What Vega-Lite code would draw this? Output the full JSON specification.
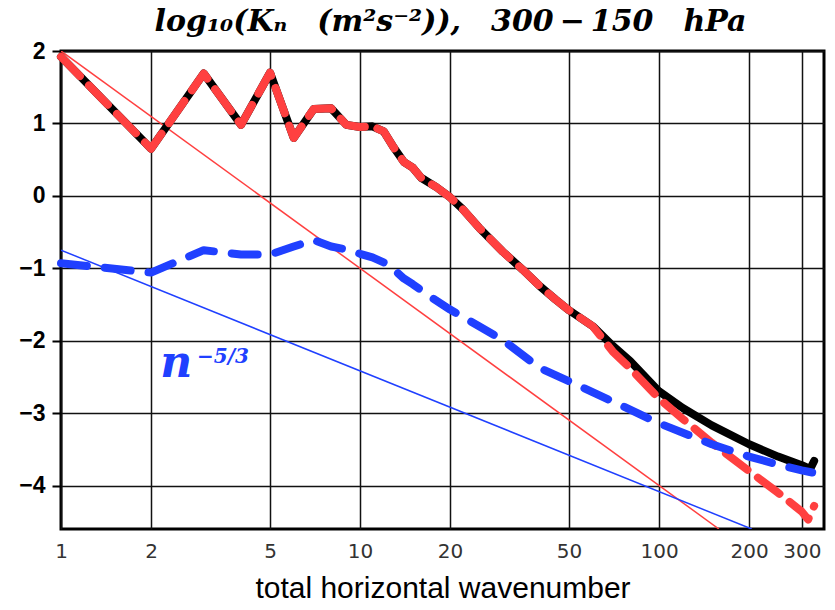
{
  "$schema": "https://vega.github.io/schema/vega-lite/v6.json",
  "width": 763,
  "height": 478,
  "autosize": "none",
  "padding": {"left": 61, "top": 51, "right": 11, "bottom": 81},
  "background": "white",
  "config": {
    "view": {"stroke": "black", "strokeWidth": 3},
    "axis": {"gridColor": "#111", "gridWidth": 1.5, "gridOpacity": 1, "domain": false}
  },
  "title": {
    "text": "log₁₀(Kₙ\u2003(m²s⁻²)),\u2003300\u2009−\u2009150\u2003hPa",
    "font": "DejaVu Serif",
    "fontSize": 30,
    "fontStyle": "italic",
    "fontWeight": "bold",
    "color": "black",
    "anchor": "middle",
    "frame": "group",
    "baseline": "bottom",
    "offset": 12,
    "dx": 8,
    "dy": 39
  },
  "datasets": {
    "total": [
      {"n": 1, "v": 1.92}, {"n": 2, "v": 0.65}, {"n": 3, "v": 1.69}, {"n": 4, "v": 0.98},
      {"n": 5, "v": 1.70}, {"n": 6, "v": 0.80}, {"n": 7, "v": 1.20}, {"n": 8, "v": 1.21},
      {"n": 9, "v": 0.98}, {"n": 10, "v": 0.95}, {"n": 11, "v": 0.96}, {"n": 12, "v": 0.89},
      {"n": 13, "v": 0.66}, {"n": 14, "v": 0.47}, {"n": 15, "v": 0.39}, {"n": 16, "v": 0.25},
      {"n": 18, "v": 0.12}, {"n": 20, "v": -0.02}, {"n": 22, "v": -0.18}, {"n": 25, "v": -0.44},
      {"n": 30, "v": -0.77}, {"n": 35, "v": -1.02}, {"n": 40, "v": -1.25}, {"n": 45, "v": -1.43},
      {"n": 50, "v": -1.58}, {"n": 60, "v": -1.80}, {"n": 70, "v": -2.07}, {"n": 80, "v": -2.28},
      {"n": 100, "v": -2.70}, {"n": 120, "v": -2.93}, {"n": 150, "v": -3.17}, {"n": 200, "v": -3.43},
      {"n": 250, "v": -3.60}, {"n": 300, "v": -3.72}, {"n": 320, "v": -3.77}, {"n": 330, "v": -3.66}
    ],
    "rot": [
      {"n": 1, "v": 1.92}, {"n": 2, "v": 0.65}, {"n": 3, "v": 1.69}, {"n": 4, "v": 0.98},
      {"n": 5, "v": 1.70}, {"n": 6, "v": 0.80}, {"n": 7, "v": 1.20}, {"n": 8, "v": 1.21},
      {"n": 9, "v": 0.98}, {"n": 10, "v": 0.95}, {"n": 11, "v": 0.96}, {"n": 12, "v": 0.89},
      {"n": 13, "v": 0.66}, {"n": 14, "v": 0.47}, {"n": 15, "v": 0.39}, {"n": 16, "v": 0.25},
      {"n": 18, "v": 0.12}, {"n": 20, "v": -0.02}, {"n": 22, "v": -0.18}, {"n": 25, "v": -0.44},
      {"n": 30, "v": -0.77}, {"n": 35, "v": -1.02}, {"n": 40, "v": -1.25}, {"n": 45, "v": -1.43},
      {"n": 50, "v": -1.58}, {"n": 60, "v": -1.80}, {"n": 70, "v": -2.15}, {"n": 80, "v": -2.38},
      {"n": 100, "v": -2.80}, {"n": 120, "v": -3.08}, {"n": 150, "v": -3.41}, {"n": 200, "v": -3.80},
      {"n": 250, "v": -4.10}, {"n": 300, "v": -4.36}, {"n": 315, "v": -4.47}, {"n": 330, "v": -4.28}
    ],
    "div": [
      {"n": 1, "v": -0.93}, {"n": 2, "v": -1.06}, {"n": 3, "v": -0.75}, {"n": 4, "v": -0.81},
      {"n": 5, "v": -0.81}, {"n": 6, "v": -0.70}, {"n": 7, "v": -0.61}, {"n": 8, "v": -0.70},
      {"n": 9, "v": -0.74}, {"n": 10, "v": -0.80}, {"n": 11, "v": -0.85}, {"n": 12, "v": -0.92},
      {"n": 13, "v": -1.02}, {"n": 14, "v": -1.14}, {"n": 15, "v": -1.22}, {"n": 17, "v": -1.38},
      {"n": 20, "v": -1.57}, {"n": 25, "v": -1.80}, {"n": 30, "v": -1.99}, {"n": 40, "v": -2.38},
      {"n": 50, "v": -2.56}, {"n": 70, "v": -2.84}, {"n": 100, "v": -3.14}, {"n": 150, "v": -3.43},
      {"n": 200, "v": -3.60}, {"n": 250, "v": -3.71}, {"n": 300, "v": -3.79}, {"n": 325, "v": -3.82}
    ],
    "ref3": [{"n": 1, "v": 2.0}, {"n": 158.5, "v": -4.6}],
    "ref53": [{"n": 1, "v": -0.75}, {"n": 204, "v": -4.6}],
    "lab1": [{"n": 2.43, "v": -2.5, "t": "n"}],
    "lab2": [{"n": 2.85, "v": -2.31, "t": "−5/3"}]
  },
  "encoding": {
    "x": {
      "field": "n", "type": "quantitative",
      "scale": {"type": "log", "domain": [1, 356], "nice": false},
      "axis": {
        "values": [1, 2, 5, 10, 20, 50, 100, 200, 300],
        "format": "d",
        "ticks": false,
        "labelPadding": 12,
        "labelFont": "DejaVu Sans",
        "labelFontSize": 20,
        "labelColor": "#333",
        "labelFlush": false,
        "title": "total horizontal wavenumber",
        "titleFont": "Liberation Sans",
        "titleFontSize": 30,
        "titleFontWeight": "normal",
        "titleColor": "black",
        "titlePadding": 12
      }
    },
    "y": {
      "field": "v", "type": "quantitative",
      "scale": {"domain": [-4.6, 2], "nice": false, "zero": false},
      "axis": {
        "values": [-4, -3, -2, -1, 0, 1, 2],
        "format": "d",
        "tickSize": 9,
        "tickWidth": 2,
        "tickColor": "black",
        "labelPadding": 7,
        "labelFont": "Liberation Sans",
        "labelFontSize": 23,
        "labelFontWeight": "bold",
        "labelColor": "black",
        "labelFlush": false,
        "title": null
      }
    }
  },
  "layer": [
    {"data": {"name": "ref3"}, "mark": {"type": "line", "color": "#ff4040", "strokeWidth": 1.5, "clip": true}},
    {"data": {"name": "ref53"}, "mark": {"type": "line", "color": "#2040ff", "strokeWidth": 1.5, "clip": true}},
    {"data": {"name": "total"}, "mark": {"type": "line", "color": "black", "strokeWidth": 8, "strokeCap": "round", "strokeJoin": "round"}},
    {"data": {"name": "rot"}, "mark": {"type": "line", "color": "#ff4040", "strokeWidth": 8, "strokeCap": "round", "strokeJoin": "round", "strokeDash": [27, 13]}},
    {"data": {"name": "div"}, "mark": {"type": "line", "color": "#2040ff", "strokeWidth": 8, "strokeCap": "round", "strokeJoin": "round", "strokeDash": [26, 18]}},
    {"data": {"name": "lab1"}, "mark": {"type": "text", "font": "DejaVu Serif", "fontStyle": "italic", "fontWeight": "bold", "fontSize": 44, "color": "#2040ff", "align": "center", "baseline": "alphabetic"}, "encoding": {"text": {"field": "t"}}},
    {"data": {"name": "lab2"}, "mark": {"type": "text", "font": "DejaVu Serif", "fontStyle": "italic", "fontWeight": "bold", "fontSize": 20, "color": "#2040ff", "align": "left", "baseline": "alphabetic"}, "encoding": {"text": {"field": "t"}}}
  ]
}
